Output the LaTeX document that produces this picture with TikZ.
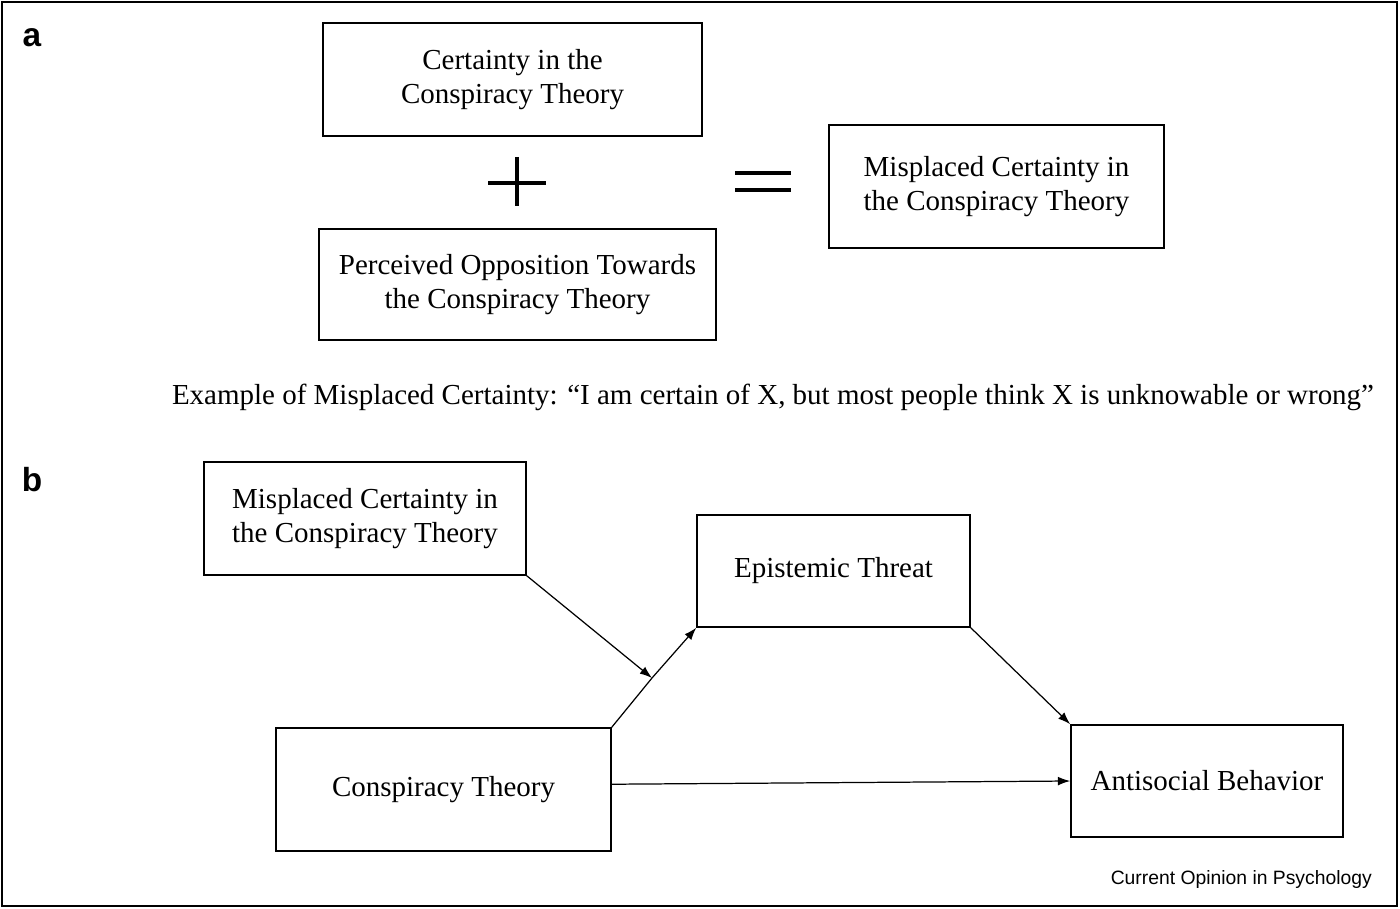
\documentclass[tikz,border=0pt]{standalone}
\usepackage{fontspec}
\setmainfont{Liberation Serif}
\setsansfont{Liberation Sans}
\usetikzlibrary{arrows.meta}
\tikzset{
  box/.style={draw, line width=0.9pt, align=center, font=\fontsize{16.5}{19}\selectfont},
  link/.style={-{Latex[length=7pt,width=5pt]}, line width=0.7pt},
  tag/.style={font=\sffamily\bfseries\fontsize{19}{21}\selectfont}
}
\begin{document}
\begin{tikzpicture}[x=0.02cm, y=-0.02cm]
\useasboundingbox (0,0) rectangle (1400,909);
\draw[line width=0.8pt] (2,2) rectangle (1397,906);

% panel a
\node[tag] (la) at (32,38) {a};
\node[box, minimum width=379*0.02cm, minimum height=113*0.02cm] (cert) at (512.5,79.5) {Certainty in the\\Conspiracy Theory};
\node[box, minimum width=397*0.02cm, minimum height=111*0.02cm] (opp) at (517.5,284.5) {Perceived Opposition Towards\\the Conspiracy Theory};
\node[box, minimum width=335*0.02cm, minimum height=123*0.02cm] (mis1) at (996.5,186.5) {Misplaced Certainty in\\the Conspiracy Theory};
\draw[line width=2pt] (488,183) -- (546,183) (517,157) -- (517,206);
\draw[line width=2pt] (735,173) -- (791,173) (735,190) -- (791,190);
\node[font=\fontsize{16.5}{19}\selectfont] (ex) at (773,397) {Example of Misplaced Certainty: “I am certain of X, but most people think X is unknowable or wrong”};

% panel b
\node[tag] (lb) at (32,480) {b};
\node[box, minimum width=322*0.02cm, minimum height=113*0.02cm] (mis2) at (365,518.5) {Misplaced Certainty in\\the Conspiracy Theory};
\node[box, minimum width=273*0.02cm, minimum height=112*0.02cm] (epi) at (833.5,571) {Epistemic Threat};
\node[box, minimum width=335*0.02cm, minimum height=123*0.02cm] (ct) at (443.5,789.5) {Conspiracy Theory};
\node[box, minimum width=272*0.02cm, minimum height=112*0.02cm] (anti) at (1207,781) {Antisocial Behavior};
\coordinate (mid) at (652,678);
\draw[line width=0.7pt] (ct.north east) -- (mid);
\draw[link] (mid) -- (epi.south west);
\draw[link] (mis2.south east) -- (mid);
\draw[link] (epi.south east) -- (anti.north west);
\draw[link] ([yshift=3pt]ct.east) -- (anti.west);

\node[font=\sffamily\fontsize{11}{13}\selectfont, anchor=east] (src) at (1378,879) {Current Opinion in Psychology};
\end{tikzpicture}
\end{document}
